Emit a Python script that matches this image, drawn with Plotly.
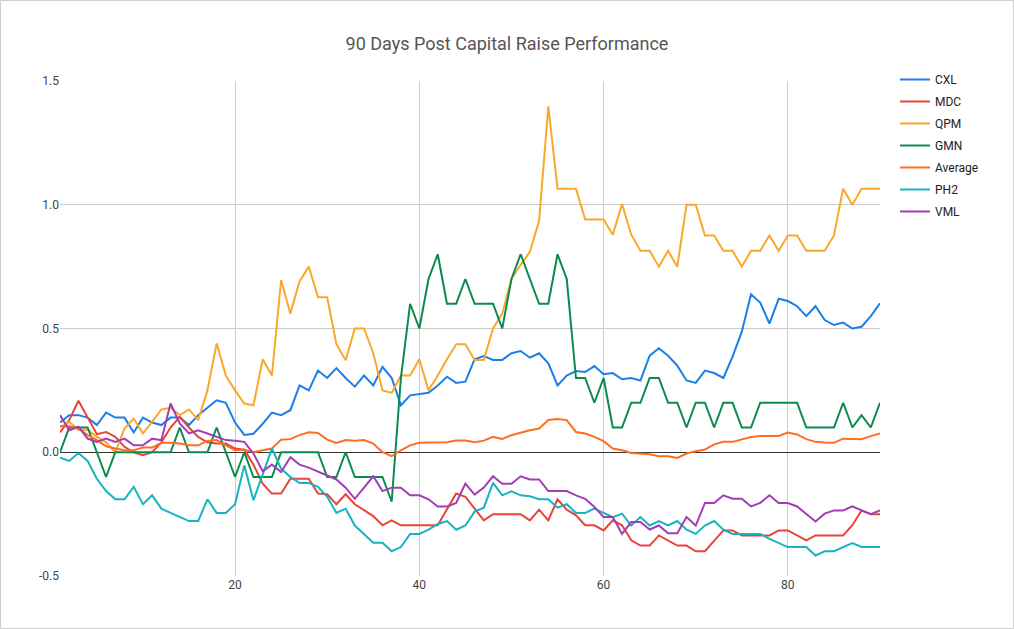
import plotly.graph_objects as go

days = list(range(1, 91))

cxl = [0.12, 0.15, 0.15, 0.14, 0.11, 0.16, 0.14, 0.14, 0.08, 0.14,
       0.12, 0.11, 0.14, 0.14, 0.11, 0.15, 0.18, 0.21, 0.20, 0.12,
       0.07, 0.075, 0.115, 0.16, 0.15, 0.17, 0.27, 0.25, 0.33, 0.30,
       0.34, 0.30, 0.265, 0.31, 0.27, 0.345, 0.30, 0.19, 0.23, 0.235,
       0.24, 0.27, 0.305, 0.28, 0.285, 0.376, 0.389, 0.373, 0.373, 0.40,
       0.409, 0.382, 0.40, 0.359, 0.27, 0.31, 0.328, 0.324, 0.348, 0.315,
       0.32, 0.295, 0.30, 0.29, 0.39, 0.42, 0.39, 0.35, 0.29, 0.28,
       0.33, 0.32, 0.30, 0.386, 0.487, 0.638, 0.605, 0.52, 0.62, 0.611,
       0.59, 0.55, 0.59, 0.534, 0.514, 0.524, 0.50, 0.507, 0.55, 0.602]

mdc = [0.08, 0.13, 0.208, 0.143, 0.073, 0.082, 0.062, 0.022, 0.0, -0.012,
       0.0, 0.04, 0.10, 0.143, 0.10, 0.062, 0.04, 0.035, 0.035, 0.015,
       0.01, -0.05, -0.127, -0.167, -0.167, -0.107, -0.107, -0.107, -0.167, -0.17,
       -0.21, -0.17, -0.21, -0.235, -0.258, -0.295, -0.275, -0.295, -0.295, -0.295,
       -0.295, -0.295, -0.23, -0.167, -0.18, -0.228, -0.275, -0.25, -0.25, -0.25,
       -0.25, -0.275, -0.232, -0.275, -0.19, -0.232, -0.255, -0.295, -0.295, -0.316,
       -0.275, -0.295, -0.356, -0.377, -0.377, -0.336, -0.356, -0.377, -0.377, -0.40,
       -0.40, -0.356, -0.316, -0.316, -0.336, -0.336, -0.336, -0.336, -0.316, -0.316,
       -0.336, -0.356, -0.336, -0.336, -0.336, -0.336, -0.295, -0.235, -0.25, -0.25]

qpm = [0.10, 0.123, 0.09, 0.09, 0.062, 0.04, 0.0, 0.096, 0.136, 0.076,
       0.123, 0.173, 0.18, 0.15, 0.173, 0.13, 0.25, 0.44, 0.31, 0.25,
       0.197, 0.19, 0.376, 0.31, 0.696, 0.56, 0.69, 0.75, 0.626, 0.626,
       0.437, 0.372, 0.50, 0.50, 0.40, 0.25, 0.24, 0.31, 0.31, 0.376,
       0.25, 0.31, 0.376, 0.436, 0.436, 0.373, 0.373, 0.50, 0.56, 0.70,
       0.757, 0.81, 0.935, 1.398, 1.065, 1.065, 1.065, 0.94, 0.94, 0.94,
       0.879, 1.003, 0.879, 0.814, 0.814, 0.75, 0.814, 0.75, 1.0, 1.0,
       0.876, 0.876, 0.814, 0.814, 0.75, 0.814, 0.814, 0.876, 0.814, 0.876,
       0.876, 0.814, 0.814, 0.814, 0.876, 1.065, 1.0, 1.065, 1.065, 1.065]

gmn = [0.0, 0.1, 0.1, 0.1, 0.0, -0.1, 0.0, 0.0, 0.0, 0.0,
       0.0, 0.0, 0.0, 0.1, 0.0, 0.0, 0.0, 0.1, 0.0, -0.1,
       0.0, -0.1, -0.1, -0.1, 0.0, 0.0, 0.0, 0.0, 0.0, -0.1,
       -0.1, 0.0, -0.1, -0.1, -0.1, -0.1, -0.2, 0.3, 0.6, 0.5,
       0.7, 0.8, 0.6, 0.6, 0.7, 0.6, 0.6, 0.6, 0.5, 0.7,
       0.8, 0.7, 0.6, 0.6, 0.8, 0.7, 0.3, 0.3, 0.2, 0.3,
       0.1, 0.1, 0.2, 0.2, 0.3, 0.3, 0.2, 0.2, 0.1, 0.2,
       0.2, 0.1, 0.2, 0.2, 0.1, 0.1, 0.2, 0.2, 0.2, 0.2,
       0.2, 0.1, 0.1, 0.1, 0.1, 0.2, 0.1, 0.15, 0.1, 0.2]

average = [0.105, 0.105, 0.096, 0.069, 0.049, 0.024, 0.015, 0.008, 0.008, 0.019,
           0.019, 0.038, 0.038, 0.035, 0.028, 0.028, 0.046, 0.049, 0.028, 0.008,
           0.01, 0.0, 0.008, 0.015, 0.051, 0.053, 0.069, 0.081, 0.078, 0.051,
           0.038, 0.049, 0.046, 0.049, 0.035, 0.0, -0.016, 0.008, 0.028, 0.038,
           0.039, 0.04, 0.04, 0.047, 0.047, 0.04, 0.047, 0.062, 0.054, 0.069,
           0.08, 0.089, 0.096, 0.13, 0.134, 0.13, 0.082, 0.076, 0.062, 0.045,
           0.015, 0.008, -0.003, -0.005, -0.008, -0.016, -0.016, -0.023, -0.005, 0.004,
           0.011, 0.032, 0.042, 0.042, 0.053, 0.062, 0.066, 0.066, 0.066, 0.08,
           0.072, 0.053, 0.042, 0.039, 0.038, 0.055, 0.055, 0.053, 0.065, 0.076]

ph2 = [-0.022, -0.035, -0.003, -0.035, -0.107, -0.157, -0.19, -0.19, -0.14, -0.21,
       -0.174, -0.228, -0.245, -0.262, -0.278, -0.278, -0.19, -0.245, -0.245, -0.21,
       -0.053, -0.194, -0.09, 0.015, -0.066, -0.10, -0.124, -0.124, -0.14, -0.18,
       -0.245, -0.228, -0.296, -0.33, -0.366, -0.366, -0.40, -0.383, -0.33, -0.33,
       -0.313, -0.29, -0.278, -0.313, -0.296, -0.24, -0.224, -0.124, -0.174, -0.158,
       -0.174, -0.178, -0.19, -0.19, -0.224, -0.21, -0.245, -0.245, -0.228, -0.245,
       -0.262, -0.248, -0.296, -0.262, -0.296, -0.278, -0.296, -0.278, -0.313, -0.33,
       -0.296, -0.278, -0.313, -0.33, -0.33, -0.33, -0.33, -0.35, -0.367, -0.383,
       -0.383, -0.383, -0.417, -0.40, -0.40, -0.383, -0.367, -0.383, -0.383, -0.383]

vml = [0.15, 0.089, 0.103, 0.055, 0.042, 0.055, 0.042, 0.055, 0.028, 0.028,
       0.055, 0.049, 0.197, 0.116, 0.076, 0.089, 0.076, 0.062, 0.049, 0.046,
       0.042, -0.005, -0.077, -0.05, -0.08, -0.02, -0.05, -0.062, -0.077, -0.093,
       -0.11, -0.143, -0.188, -0.143, -0.097, -0.157, -0.143, -0.143, -0.174, -0.174,
       -0.19, -0.219, -0.219, -0.205, -0.127, -0.171, -0.143, -0.097, -0.127, -0.127,
       -0.097, -0.11, -0.11, -0.157, -0.157, -0.157, -0.174, -0.188, -0.221, -0.262,
       -0.262, -0.33, -0.282, -0.282, -0.312, -0.296, -0.327, -0.327, -0.262, -0.296,
       -0.205, -0.205, -0.174, -0.188, -0.188, -0.219, -0.205, -0.174, -0.205, -0.205,
       -0.219, -0.248, -0.28, -0.248, -0.235, -0.235, -0.219, -0.235, -0.25, -0.235]

series_names = ["CXL", "MDC", "QPM", "GMN", "Average", "PH2", "VML"]
series_values = [cxl, mdc, qpm, gmn, average, ph2, vml]
series_colors = ["#1a7fe8", "#e8443a", "#f9a82b", "#0b8a4c", "#ff6d22", "#14b5c0", "#a43cb8"]

y_ticks = [-0.5, 0.0, 0.5, 1.0, 1.5]
y_tick_labels = ["-0.5", "0.0", "0.5", "1.0", "1.5"]
x_ticks = [20, 40, 60, 80]

fig = go.Figure()
for name, vals, col in zip(series_names, series_values, series_colors):
    fig.add_trace(go.Scatter(x=days, y=vals, mode="lines", name=name,
                             legendgroup=name,
                             line=dict(color=col, width=2)))

# light frame around the whole chart
L, R, T, B = 60, 134, 81, 53
W, H = 1014, 629
pw, ph = W - L - R, H - T - B
fig.add_shape(type="rect", xref="paper", yref="paper",
              x0=(0.5 - L) / pw, x1=(W - 0.5 - L) / pw,
              y0=-(B - 0.5) / ph, y1=1 + (T - 0.5) / ph,
              line=dict(color="#cfcfcf", width=1), layer="below")

fig.update_layout(
    width=W, height=H,
    margin=dict(l=L, r=R, t=T, b=B),
    paper_bgcolor="white", plot_bgcolor="white",
    font=dict(family="Roboto, Arial, sans-serif", size=12, color="#444444"),
    title=dict(text="90 Days Post Capital Raise Performance", x=0.5, xref="container",
               y=1 - 44 / H, yref="container", yanchor="middle", xanchor="center",
               font=dict(size=18, color="#555555", family="Roboto, Arial, sans-serif")),
    showlegend=True,
    legend=dict(x=(895 - L) / pw, xanchor="left", y=1 + (T - 65) / ph, yanchor="top",
                font=dict(size=12, color="#222222"), tracegroupgap=3,
                bgcolor="rgba(0,0,0,0)", itemwidth=30),
    xaxis=dict(range=[1, 90], tickvals=x_ticks, showgrid=True, gridcolor="#cccccc",
               zeroline=False, showline=False, ticks="", tickfont=dict(color="#444444")),
    yaxis=dict(range=[-0.5, 1.5], tickvals=y_ticks, ticktext=y_tick_labels,
               showgrid=True, gridcolor="#cccccc", zeroline=True,
               zerolinecolor="#333333", zerolinewidth=1, showline=False, ticks="",
               tickfont=dict(color="#444444")),
)

fig.write_html("out.html", config={"displayModeBar": False},
               post_script="document.body.style.margin='0';document.body.style.padding='0';")
